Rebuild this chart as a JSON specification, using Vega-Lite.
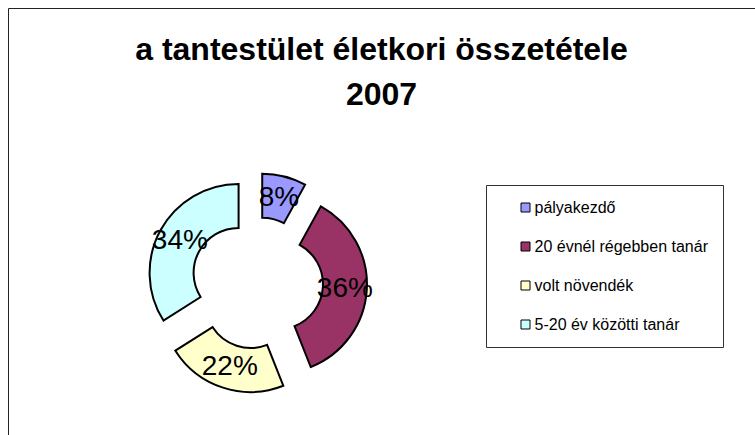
{
  "$schema": "https://vega.github.io/schema/vega-lite/v6.json",
  "width": 747,
  "height": 427,
  "padding": {"left": 8, "top": 8, "right": 0, "bottom": 0},
  "autosize": {"type": "none"},
  "background": "white",
  "view": {"stroke": "#222222", "strokeWidth": 1, "fill": "white"},
  "title": {
    "text": ["a tantestület életkori összetétele", "2007"],
    "orient": "top",
    "anchor": "middle",
    "frame": "group",
    "baseline": "alphabetic",
    "offset": -129,
    "font": "Liberation Sans",
    "fontSize": 32,
    "fontWeight": "bold",
    "color": "black",
    "lineHeight": 45
  },
  "data": {
    "values": [
      {"cat": "pályakezdő", "share": 0.08, "n": 1},
      {"cat": "20 évnél régebben tanár", "share": 0.36, "n": 2},
      {"cat": "volt növendék", "share": 0.22, "n": 3},
      {"cat": "5-20 év közötti tanár", "share": 0.34, "n": 4}
    ]
  },
  "layer": [
    {
      "mark": {
        "type": "arc",
        "innerRadius": 45,
        "outerRadius": 89,
        "stroke": "black",
        "strokeWidth": 2,
        "x": 249,
        "y": 275,
        "xOffset": {"expr": "21*sin(PI*(datum.share_start+datum.share_end))"},
        "yOffset": {"expr": "-21*cos(PI*(datum.share_start+datum.share_end))"}
      },
      "encoding": {
        "theta": {"field": "share", "type": "quantitative", "stack": true},
        "order": {"field": "n", "type": "quantitative"},
        "color": {
          "field": "cat",
          "type": "nominal",
          "scale": {
            "domain": ["pályakezdő", "20 évnél régebben tanár", "volt növendék", "5-20 év közötti tanár"],
            "range": ["#9999FF", "#993366", "#FFFFCC", "#CCFFFF"]
          },
          "legend": {
            "title": null,
            "orient": "none",
            "legendX": 478,
            "legendY": 177,
            "strokeColor": "#333333",
            "fillColor": "white",
            "padding": 14.5,
            "symbolOffset": 17,
            "symbolType": "square",
            "symbolSize": 81,
            "symbolStrokeColor": "black",
            "symbolStrokeWidth": 1,
            "labelFont": "Liberation Sans",
            "labelFontSize": 16,
            "labelColor": "black",
            "labelOffset": 1,
            "labelLimit": 400,
            "rowPadding": 23
          }
        }
      }
    },
    {
      "mark": {
        "type": "text",
        "radius": 67,
        "x": 249,
        "y": 275,
        "xOffset": {"expr": "21*sin(PI*(datum.share_start+datum.share_end))"},
        "yOffset": {"expr": "-21*cos(PI*(datum.share_start+datum.share_end))"},
        "font": "Liberation Sans",
        "fontSize": 28,
        "fill": "black",
        "align": "center",
        "baseline": "middle"
      },
      "encoding": {
        "theta": {"field": "share", "type": "quantitative", "stack": true},
        "order": {"field": "n", "type": "quantitative"},
        "detail": {"field": "cat", "type": "nominal"},
        "text": {"field": "share", "type": "quantitative", "format": ".0%"}
      }
    }
  ]
}
